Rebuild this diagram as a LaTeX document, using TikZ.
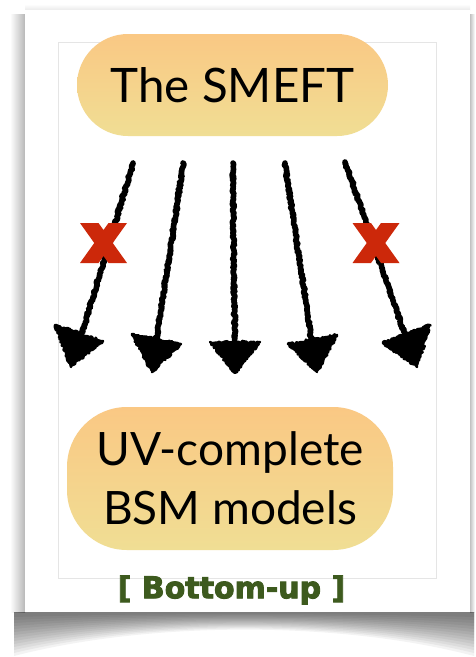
\documentclass[tikz,border=0pt]{standalone}
\usepackage{fontspec}
\setmainfont{Lato}
\newfontfamily\labelfont{DejaVu Sans Bold}[FakeBold=3]
\usetikzlibrary{decorations.pathmorphing}

\definecolor{pilltop}{RGB}{250,200,132}
\definecolor{pillbot}{RGB}{240,222,148}
\definecolor{leafgreen}{RGB}{61,90,30}
\definecolor{crossred}{RGB}{204,40,10}

\begin{document}
\begin{tikzpicture}[x=1pt,y=-1pt,
  pill/.style={rectangle, inner sep=0pt, top color=pilltop, bottom color=pillbot,
    draw=none, align=center, text=black},
  chalk/.style={line width=5.6pt, line cap=round, line join=round, decorate,
    decoration={random steps, segment length=1.4pt, amplitude=1.1pt}},
  chalkhead/.style={fill=black, draw=black, line width=2.4pt, line join=round, decorate,
    decoration={random steps, segment length=1.5pt, amplitude=1.2pt}},
  cross/.style={fill=crossred, draw=none}]
\pgfmathsetseed{7}
\useasboundingbox (0,0) rectangle (475,657);
\fill[white] (0,0) rectangle (475,657);

% soft shadows around the card
\shade[left color=white, right color=black!28] (10,14) rectangle (25,612);
\shade[left color=black!24, right color=white] (470,14) rectangle (475,612);
\shade[top color=white, bottom color=black!8] (25,4) rectangle (470,10);
\foreach \d in {5,8,...,44}
  \fill[black, opacity=0.048] (14,612) -- (474,612) -- (474,612+\d)
    .. controls (340,612+0.2*\d) and (150,612+0.2*\d) .. (14,612+\d) -- cycle;

% the card and its inner frame
\fill[white] (25,10) rectangle (470,612);
\draw[black!10, line width=0.8pt] (58,42) rectangle (436,578);

% boxes
\node[pill, rounded corners=51pt, minimum width=311pt, minimum height=102pt,
  font=\fontsize{47.5}{56}\selectfont] (smeft) at (232.5,85) {The SMEFT};
\node[pill, rounded corners=60pt, minimum width=326pt, minimum height=143pt,
  font=\fontsize{46}{59}\selectfont] (uv) at (230,478.5) {UV-complete\\BSM models};
\node[text=leafgreen, font=\labelfont\fontsize{30}{34}\selectfont]
  (tag) at (231.5,590) {[ Bottom-up ]};

% arrow ends
\coordinate (s1) at (133,163); \coordinate (e1) at (82,333);
\coordinate (s2) at (183,163); \coordinate (e2) at (156,342);
\coordinate (s3) at (233,163); \coordinate (e3) at (235,346);
\coordinate (s4) at (285,163); \coordinate (e4) at (312,344);
\coordinate (s5) at (345,162); \coordinate (e5) at (407,340);

% hand-drawn shafts
\draw[chalk] (s1) .. controls (116,220) and (99,277) .. (e1);
\draw[chalk] (s2) .. controls (175,222) and (165,282) .. (e2);
\draw[chalk] (s3) .. controls (233,224) and (234,285) .. (e3);
\draw[chalk] (s4) .. controls (294,223) and (303,283) .. (e4);
\draw[chalk] (s5) .. controls (366,221) and (386,281) .. (e5);

% hand-drawn heads
\filldraw[chalkhead] (55,325) -- (103,341) -- (71,367) -- cycle;
\filldraw[chalkhead] (132,334) -- (181,344) -- (152,372) -- cycle;
\filldraw[chalkhead] (210,342) -- (260,342) -- (235,373) -- cycle;
\filldraw[chalkhead] (288,344) -- (337,335) -- (317,372) -- cycle;
\filldraw[chalkhead] (383,343) -- (430,325) -- (417,367) -- cycle;

% red crosses
\foreach \cx in {103.5,376}
  \fill[cross, shift={(\cx,243)}] (-23.5,-20) -- (-5,-20) -- (0,-13) -- (5,-20)
    -- (23.5,-20) -- (9.25,0) -- (23.5,20) -- (5,20) -- (0,13) -- (-5,20)
    -- (-23.5,20) -- (-9.25,0) -- cycle;
\end{tikzpicture}
\end{document}
